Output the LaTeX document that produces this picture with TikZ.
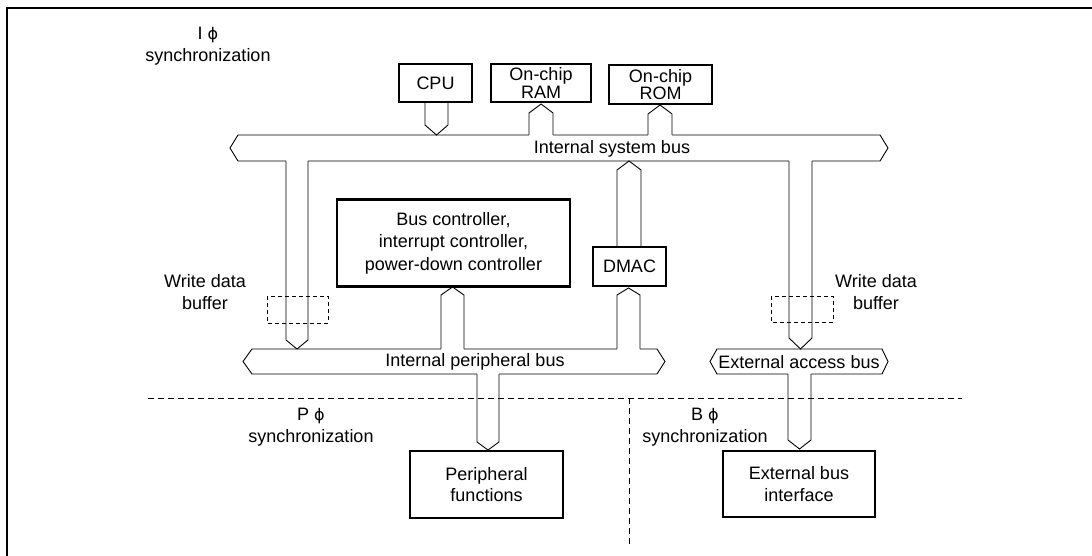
\documentclass[tikz,border=0pt]{standalone}
\usepackage{fontspec}
\setmainfont{Liberation Sans}
\newfontfamily\phifont{DejaVu Sans}
\newcommand\myphi{{\phifont\fontsize{16}{16}\selectfont ϕ}}
\newcommand\bstub[6]{% x1 x2 yopen yfill yshoulder ytip
  \fill[white] (#1,#4) -- (#1,#5) -- ({(#1+#2)/2},#6) -- (#2,#5) -- (#2,#4) -- cycle;
  \draw[wire] (#1,#3) -- (#1,#5) -- ({(#1+#2)/2},#6) -- (#2,#5) -- (#2,#3);}
\begin{document}
\begin{tikzpicture}[x=1pt,y=-1pt,line join=miter,
  bus/.style={draw=black,line width=0.9pt,fill=white},
  wire/.style={draw=black,line width=0.9pt},
  box/.style={draw=black,line width=2.6pt,fill=white,inner sep=0pt,align=center,font=\fontsize{18}{21.5}\selectfont},
  lbl/.style={align=center,inner sep=0pt,font=\fontsize{18}{21.5}\selectfont},
  buf/.style={draw=black,line width=0.9pt,dash pattern=on 4pt off 3pt},
  sync/.style={draw=black,line width=0.9pt,dash pattern=on 6pt off 4pt}]
\useasboundingbox (0,0) rectangle (1092,556);
% frame
\draw[line width=2.5pt] (7,556) -- (7,8) -- (1092,8);
% buses
\draw[bus] (238,135) -- (880,135) -- (888,148) -- (880,161) -- (238,161) -- (230,148) -- cycle;
\draw[bus] (252,349) -- (657,349) -- (665,361.5) -- (657,374) -- (252,374) -- (243,361.5) -- cycle;
\draw[bus] (717,349) -- (882,349) -- (888,361.5) -- (882,374) -- (717,374) -- (710,361.5) -- cycle;
% stubs
\bstub{425}{448}{102}{102}{125}{135}
\bstub{529}{553}{135}{137}{113}{104}
\bstub{648}{672}{135}{137}{114}{105}
\bstub{286}{308}{161}{159}{340}{349}
\bstub{789}{812}{161}{159}{338}{349}
\bstub{617}{641}{247}{247}{170}{161}
\bstub{441}{464}{349}{351}{295}{287}
\bstub{617}{640}{349}{351}{295}{288}
\bstub{477}{499}{374}{372}{442}{450}
\bstub{788}{811}{374}{372}{440}{449}
% write data buffers
\draw[buf] (267,296) rectangle (328,323);
\draw[buf] (771,296) rectangle (833,322);
% boxes
\node[box,minimum width=73pt,minimum height=38pt] (cpu) at (435.5,83) {CPU};
\node[box,minimum width=100pt,minimum height=38pt,font=\fontsize{18}{16}\selectfont] (ram) at (541,83) {On-chip\\RAM};
\node[box,minimum width=103pt,minimum height=39pt,font=\fontsize{18}{16}\selectfont] (rom) at (660.5,84.5) {On-chip\\ROM};
\node[box,minimum width=233pt,minimum height=87pt,font=\fontsize{18}{22.5}\selectfont] (bsc) at (453.5,243) {Bus controller,\\interrupt controller,\\power-down controller};
\node[box,minimum width=73pt,minimum height=39pt] (dmac) at (629.5,266.5) {DMAC};
\node[box,minimum width=153pt,minimum height=67pt] (per) at (486.5,484.5) {Peripheral\\functions};
\node[box,minimum width=152pt,minimum height=66pt] (ext) at (799,484) {External bus\\interface};
% bus labels
\node[lbl] (isb) at (612,149) {Internal system bus};
\node[lbl] (ipb) at (475,362) {Internal peripheral bus};
\node[lbl] (eab) at (799,362) {External access bus};
% other labels
\node[lbl] (wl) at (205,292) {Write data\\buffer};
\node[lbl] (wr) at (876,292) {Write data\\buffer};
\node[lbl,font=\fontsize{18}{22}\selectfont] (isync) at (208,46) {I \myphi\\synchronization};
\node[lbl,font=\fontsize{18}{22}\selectfont] (psync) at (311,427) {P \myphi\\synchronization};
\node[lbl,font=\fontsize{18}{22}\selectfont] (bsync) at (705,427) {B \myphi\\synchronization};
% synchronization boundaries
\coordinate (hl) at (148,398);
\coordinate (hr) at (962,398);
\coordinate (vt) at (629,398);
\coordinate (vb) at (629,545);
\draw[sync] (hl) -- (hr);
\draw[sync] (vt) -- (vb);
\end{tikzpicture}
\end{document}
